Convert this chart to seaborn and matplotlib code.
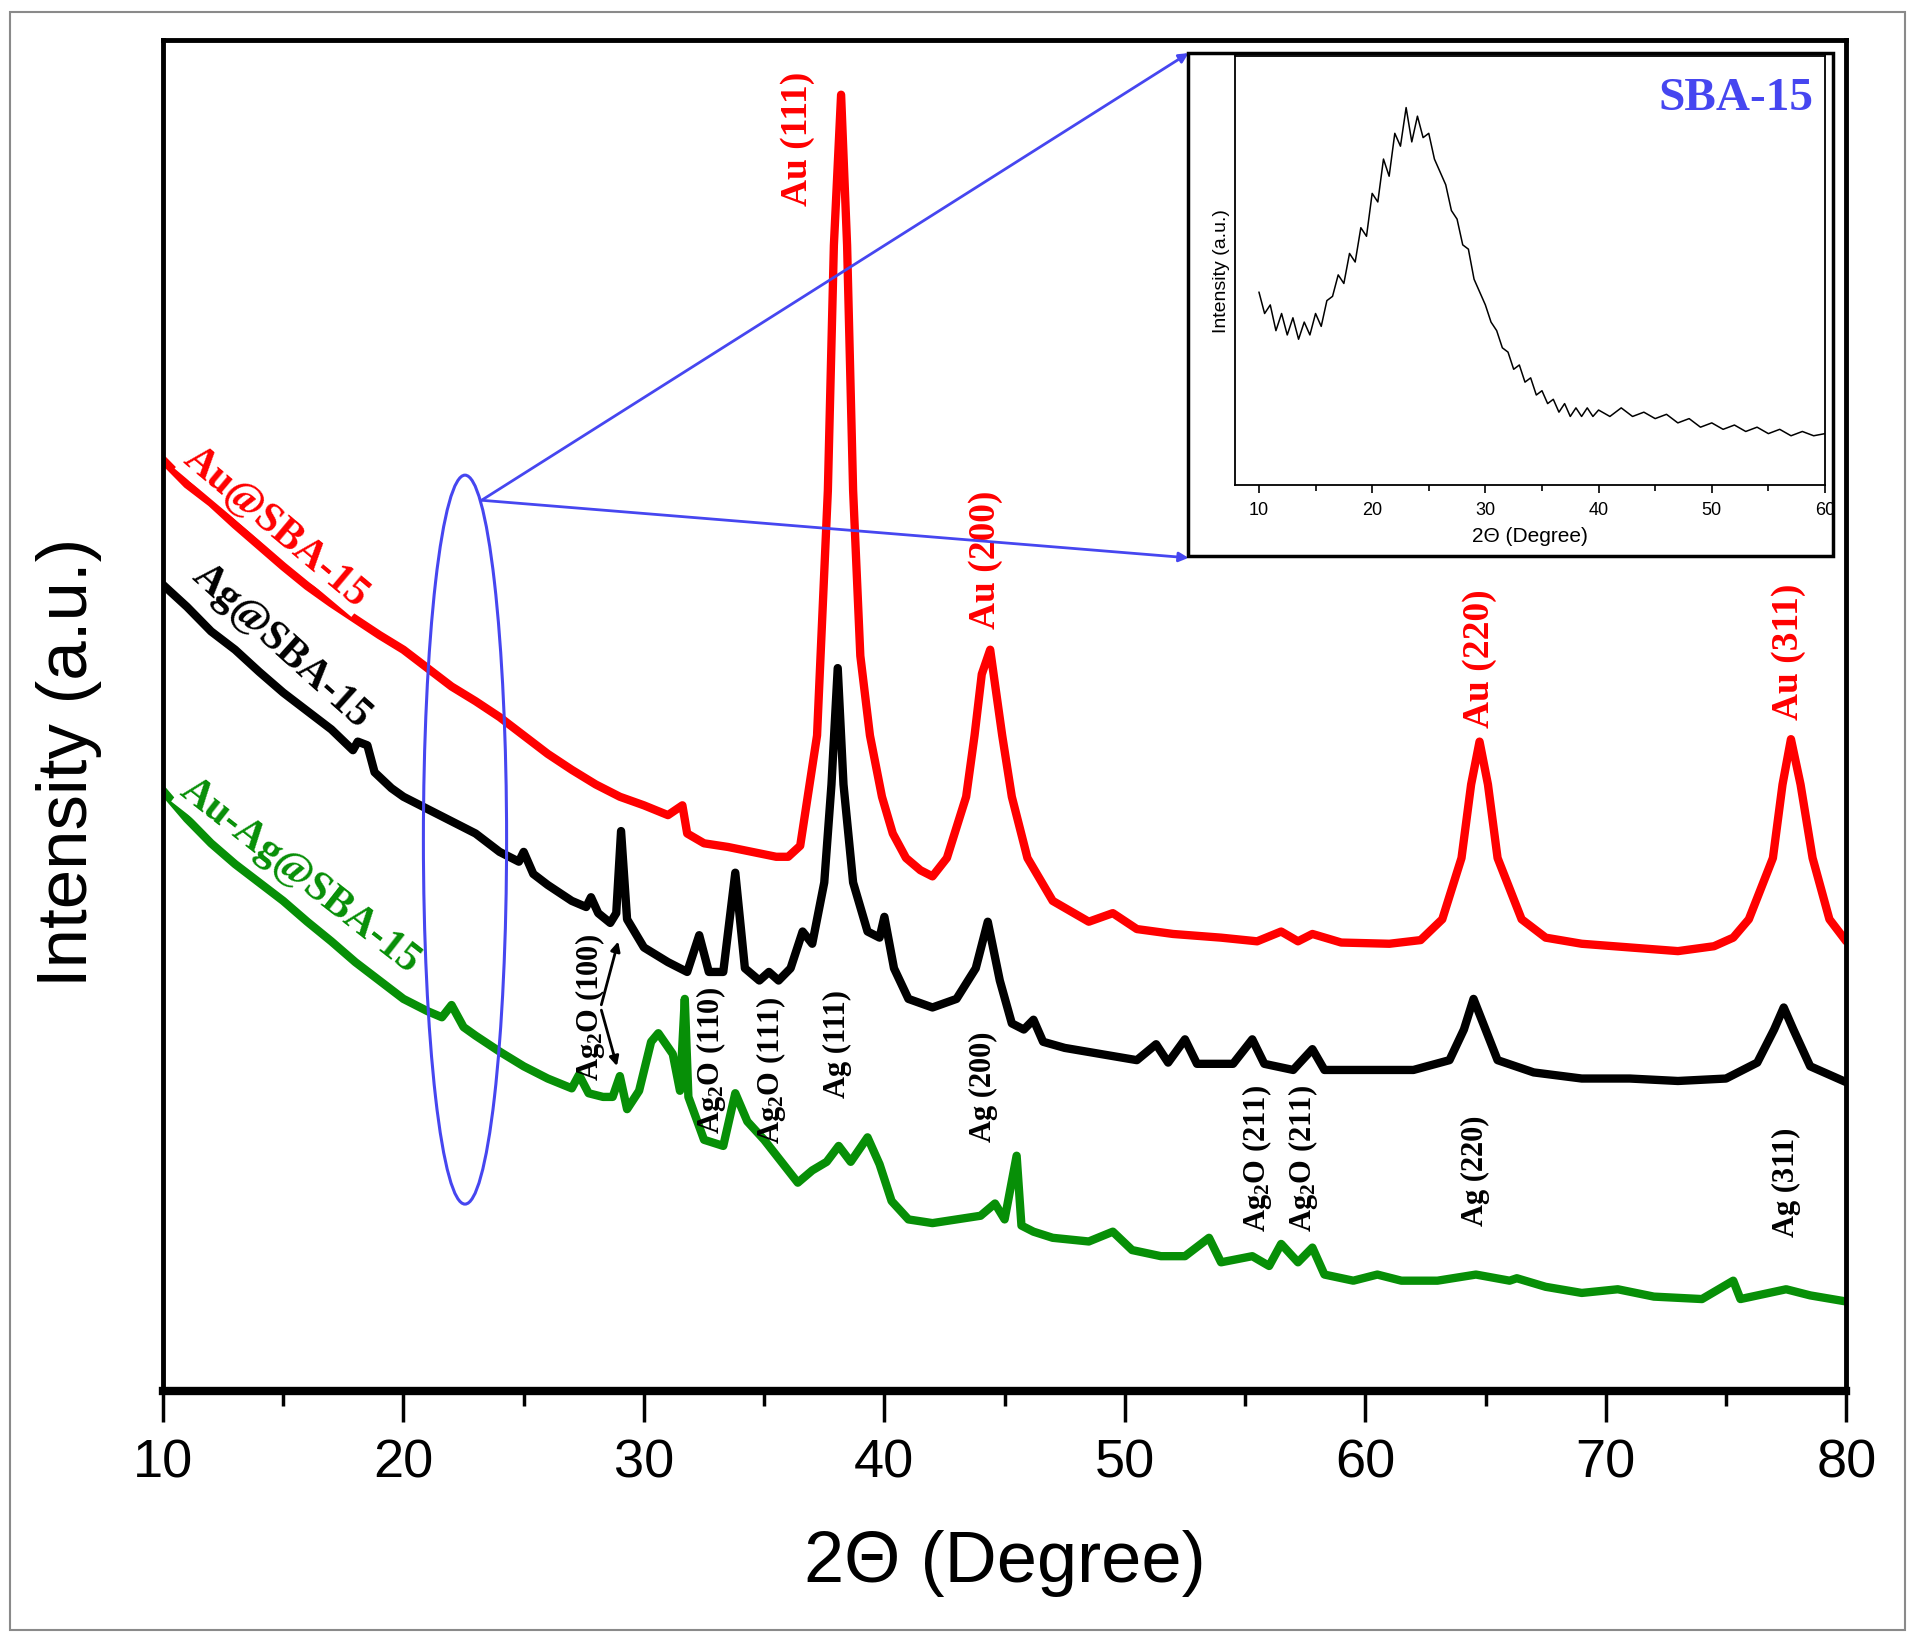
import numpy as np
import pandas as pd
import matplotlib
matplotlib.use("Agg")
import matplotlib.pyplot as plt
import seaborn as sns
from matplotlib.patches import Ellipse, Rectangle

# ---- data (arbitrary intensity units) ----
red_x = [10, 11, 12, 13, 14, 15, 16, 17, 18, 19, 20, 21, 22, 23, 24, 25, 26, 27, 28, 29, 30, 31,
         31.6, 31.8, 32.5, 33.5, 34.5, 35.5, 36.0, 36.5, 37.2, 37.65, 37.9, 38.2, 38.45, 38.7, 39.0,
         39.4, 39.9, 40.35, 40.9, 41.5, 42.0, 42.6, 43.4, 43.75, 44.05, 44.4, 44.9, 45.3, 45.95,
         47.0, 48.5, 49.5, 50.5, 52, 54, 55.5, 56.5, 57.2, 57.8, 59, 61, 62.3, 63.2, 64.0, 64.4,
         64.75, 65.1, 65.5, 66.5, 67.5, 69, 71, 73, 74.5, 75.3, 75.95, 76.95, 77.35, 77.7, 78.1,
         78.6, 79.3, 80]
red_y = [760, 740, 725, 707, 690, 673, 657, 643, 630, 617, 605, 590, 575, 563, 550, 535, 520, 507,
         495, 485, 478, 470, 478, 455, 447, 444, 440, 436, 436, 445, 535, 735, 935, 1058, 935, 735,
         600, 535, 485, 455, 435, 425, 420, 435, 485, 535, 585, 605, 535, 485, 435, 400, 383, 390,
         377, 373, 370, 367, 375, 367, 373, 366, 365, 368, 385, 435, 495, 530, 495, 435, 385, 370,
         365, 362, 359, 363, 370, 385, 435, 495, 532, 495, 435, 385, 367]

black_x = [10, 11, 12, 13, 14, 15, 16, 17, 17.9, 18.1, 18.5, 18.8, 19.5, 20, 21, 22, 23, 24, 24.8,
           25.0, 25.4, 26, 27, 27.6, 27.8, 28.1, 28.6, 28.85, 29.05, 29.3, 30, 31, 31.8, 32.3, 32.7,
           33.3, 33.8, 34.2, 34.8, 35.2, 35.6, 36.1, 36.6, 37.0, 37.5, 37.8, 38.06, 38.3, 38.7, 39.3,
           39.8, 40.0, 40.4, 41, 42, 43, 43.8, 44.3, 44.8, 45.3, 45.8, 46.2, 46.6, 47.5, 49, 50.5,
           51.3, 51.8, 52.5, 53, 54.5, 55.3, 55.8, 57, 57.8, 58.3, 60, 62, 63.5, 64.1, 64.5, 64.9,
           65.5, 67, 69, 71, 73, 75, 76.3, 77.0, 77.4, 77.8, 78.5, 80]
black_y = [658, 640, 620, 605, 587, 570, 555, 540, 523, 530, 527, 505, 492, 485, 475, 465, 455, 440,
           432, 440, 422, 413, 400, 395, 403, 390, 382, 390, 457, 385, 362, 350, 342, 372, 342, 342,
           423, 345, 335, 342, 335, 345, 375, 365, 415, 495, 590, 495, 415, 375, 370, 387, 345, 320,
           313, 320, 345, 383, 335, 300, 295, 303, 285, 280, 275, 270, 283, 268, 287, 267, 267, 287,
           267, 262, 279, 262, 262, 262, 270, 295, 320, 300, 270, 260, 255, 255, 253, 255, 268, 295,
           313, 295, 265, 252]

green_x = [10, 11, 12, 13, 14, 15, 16, 17, 18, 19, 20, 21, 21.6, 22.0, 22.5, 23, 24, 25, 26, 27,
           27.3, 27.7, 28.3, 28.7, 29.0, 29.3, 29.8, 30.3, 30.6, 31.2, 31.5, 31.7, 31.85, 32.5, 33.3,
           33.8, 34.3, 35, 35.8, 36.4, 37, 37.6, 38.1, 38.6, 39.3, 39.8, 40.3, 41, 42, 43, 44, 44.6,
           45, 45.5, 45.7, 46.2, 47, 48.5, 49.5, 50.3, 51.5, 52.5, 53.5, 54, 55.3, 56, 56.5, 57.2,
           57.8, 58.3, 59.5, 60.5, 61.5, 63, 64.6, 66, 66.3, 67.5, 69, 70.5, 72, 74, 75.3, 75.6,
           77.5, 78.5, 80]
green_y = [490, 467, 447, 430, 415, 400, 383, 367, 350, 335, 320, 310, 305, 315, 297, 290, 277, 265,
           255, 247, 258, 243, 240, 240, 257, 230, 245, 285, 292, 275, 245, 320, 240, 205, 200, 243,
           220, 205, 185, 170, 180, 187, 200, 187, 207, 185, 155, 140, 137, 140, 143, 153, 140, 192,
           135, 130, 125, 122, 130, 115, 110, 110, 125, 105, 110, 102, 120, 105, 117, 95, 90, 95, 90,
           90, 95, 90, 92, 85, 80, 83, 77, 75, 90, 75, 83, 78, 73]

# inset: bare SBA-15
sba_x = [10, 10.5, 11, 11.5, 12, 12.5, 13, 13.5, 14, 14.5, 15, 15.5, 16, 16.5, 17, 17.5, 18, 18.5,
         19, 19.5, 20, 20.5, 21, 21.5, 22, 22.5, 23, 23.5, 24, 24.5, 25, 25.5, 26, 26.5, 27, 27.5,
         28, 28.5, 29, 29.5, 30, 30.5, 31, 31.5, 32, 32.5, 33, 33.5, 34, 34.5, 35, 35.5, 36, 36.5,
         37, 37.5, 38, 38.5, 39, 39.5, 40, 41, 42, 43, 44, 45, 46, 47, 48, 49, 50, 51, 52, 53, 54,
         55, 56, 57, 58, 59, 60]
sba_y = [45, 40, 42, 36, 40, 35, 39, 34, 38, 35, 40, 37, 43, 44, 49, 47, 54, 52, 60, 58, 68, 66, 76,
         72, 82, 79, 88, 80, 86, 81, 82, 76, 73, 70, 64, 62, 56, 55, 48, 45, 42, 38, 36, 32, 31, 27,
         28, 24, 25, 21, 22, 19, 20, 17, 19, 16, 18, 16, 18, 16, 17.5, 16, 18, 16, 17, 15.5, 16.5,
         14.5, 15.5, 13.5, 14.5, 13, 14, 12.5, 13.5, 12, 13, 11.5, 12.5, 11.5, 12]

series = [("Au@SBA-15", red_x, red_y, "#ff0000"),
          ("Ag@SBA-15", black_x, black_y, "#000000"),
          ("Au-Ag@SBA-15", green_x, green_y, "#078f07")]

au_peaks = [("Au (111)", 36.4, 1022), ("Au (200)", 44.2, 678),
            ("Au (220)", 64.75, 598), ("Au (311)", 77.6, 603)]
ag_peaks = [("Ag$_2$O (100)", 27.75, 313), ("Ag$_2$O (110)", 32.8, 270),
            ("Ag$_2$O (111)", 35.3, 262), ("Ag (111)", 38.06, 283),
            ("Ag (200)", 44.1, 248), ("Ag$_2$O (211)", 55.5, 190),
            ("Ag$_2$O (211)", 57.4, 190), ("Ag (220)", 64.6, 180),
            ("Ag (311)", 77.5, 170)]
sample_labels = [("Au@SBA-15", 14.7, 705, "#ff0000", -40),
                 ("Ag@SBA-15", 14.9, 608, "#000000", -42),
                 ("Au-Ag@SBA-15", 15.7, 420, "#078f07", -38)]

# ---- style ----
sns.set_style("white")
plt.rcParams['font.family'] = ['Liberation Sans', 'DejaVu Sans']
plt.rcParams['text.color'] = 'black'
plt.rcParams['axes.labelcolor'] = 'black'
plt.rcParams['xtick.color'] = 'black'
plt.rcParams['mathtext.fontset'] = 'custom'
plt.rcParams['mathtext.rm'] = 'Liberation Serif:bold'
plt.rcParams['mathtext.it'] = 'Liberation Serif:bold'
plt.rcParams['mathtext.bf'] = 'Liberation Serif:bold'
serif = ['Liberation Serif', 'DejaVu Serif']
blue = '#4646f0'

fig = plt.figure(figsize=(19.15, 16.5), dpi=100)
ax = fig.add_axes([0.0851, 0.157, 0.8790, 0.819])

for name, xs, ys, col in series:
    df = pd.DataFrame({"theta": xs, "intensity": ys})
    sns.lineplot(data=df, x="theta", y="intensity", ax=ax, color=col, lw=6,
                 estimator=None, zorder=2)

ax.set_xlim(10, 80)
ax.set_ylim(0, 1103)
ax.set_xticks(range(10, 81, 10))
ax.set_xticks(range(15, 80, 10), minor=True)
ax.set_yticks([])
ax.tick_params(axis='x', which='major', direction='out', length=22, width=2.5,
               labelsize=39, pad=12, bottom=True, colors='black')
ax.tick_params(axis='x', which='minor', direction='out', length=11, width=2.5, bottom=True,
               colors='black')
for s in ax.spines.values():
    s.set_linewidth(3.5)
    s.set_color('black')
ax.spines['bottom'].set_linewidth(6)
ax.set_xlabel("2Θ (Degree)", fontsize=52, labelpad=30, color='black')
ax.set_ylabel("Intensity (a.u.)", fontsize=51, color='black')
ax.yaxis.set_label_coords(-0.036, 0.465)

# peak labels
for txt, x, y in au_peaks:
    ax.text(x, y, txt, color='#ff0000', fontsize=27, fontweight='bold', family=serif,
            rotation=90, ha='center', va='center', zorder=4)
for txt, x, y in ag_peaks:
    ax.text(x, y, txt, color='black', fontsize=22, fontweight='bold', family=serif,
            rotation=90, ha='center', va='center', zorder=4)
for txt, x, y, col, rot in sample_labels:
    ax.text(x, y, txt, color=col, fontsize=30, fontweight='bold', family=serif,
            rotation=rot, rotation_mode='anchor', ha='center', va='center', zorder=4,
            bbox=dict(facecolor='white', edgecolor='none', pad=1))

# Ag2O (100) double arrow
for tx, ty in [(28.96, 369), (28.91, 263)]:
    ax.annotate("", xy=(tx, ty), xytext=(28.2, 313),
                arrowprops=dict(arrowstyle='-|>', color='black', lw=2, mutation_scale=14),
                zorder=4)

# ellipse + zoom lines to inset
ax.add_patch(Ellipse((22.56, 450), 3.46, 595, fill=False, edgecolor=blue, lw=2.2, zorder=5))
for ty in [1092, 680]:
    ax.annotate("", xy=(52.65, ty), xytext=(23.25, 727),
                arrowprops=dict(arrowstyle='-|>', color=blue, lw=2, mutation_scale=14,
                                shrinkA=0, shrinkB=0), zorder=5)

# inset frame
ax.add_patch(Rectangle((0.6206, 0.663), 0.3364, 0.305, transform=fig.transFigure,
                       facecolor='white', edgecolor='black', lw=2.5, zorder=6, clip_on=False))

ins = fig.add_axes([0.645, 0.706, 0.308, 0.26])
sns.lineplot(x=sba_x, y=sba_y, ax=ins, color='black', lw=1.1, estimator=None)
ins.set_xlim(7.9, 60)
ins.set_ylim(0, 100)
ins.set_xticks(range(10, 61, 10))
ins.set_xticks(range(15, 60, 10), minor=True)
ins.set_yticks([])
ins.tick_params(axis='x', which='major', direction='out', length=6, width=1.2,
                labelsize=13, pad=6, bottom=True, colors='black')
ins.tick_params(axis='x', which='minor', direction='out', length=4, width=1.2, bottom=True,
                colors='black')
for s in ins.spines.values():
    s.set_linewidth(1.3)
    s.set_color('black')
ins.set_xlabel("2Θ (Degree)", fontsize=15, labelpad=6, color='black')
ins.set_ylabel("Intensity (a.u.)", fontsize=14, labelpad=4, color='black')
ins.text(0.98, 0.95, "SBA-15", transform=ins.transAxes, color=blue, fontsize=34,
         fontweight='bold', family=serif, ha='right', va='top')

# thin outer frame around the figure
fig.patches.append(Rectangle((0.005, 0.012), 0.99, 0.981, transform=fig.transFigure,
                             fill=False, edgecolor='#8a8a8a', lw=1.5))

fig.savefig("out.png", dpi=100)
